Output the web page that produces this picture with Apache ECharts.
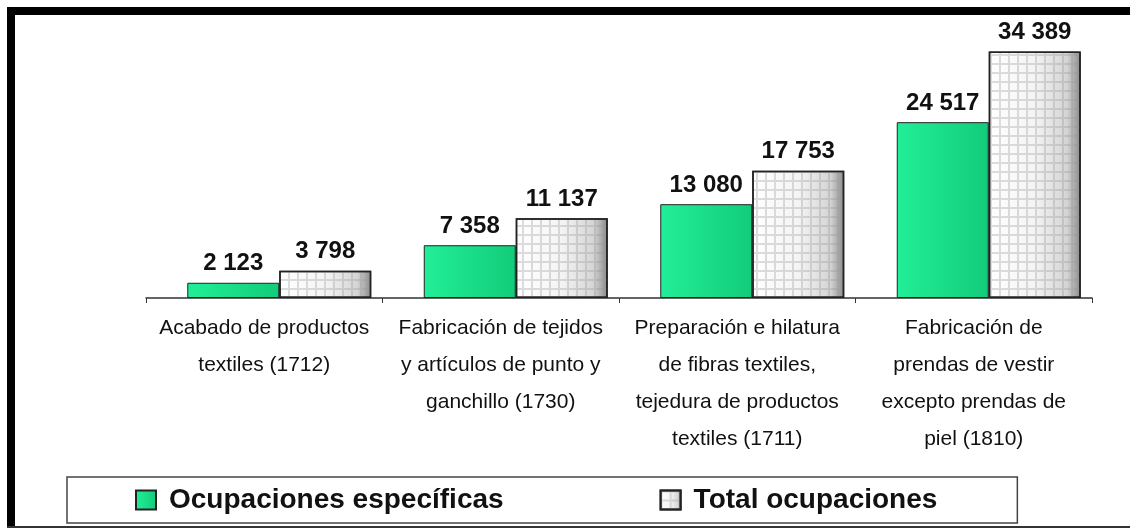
<!DOCTYPE html>
<html>
<head>
<meta charset="utf-8">
<script src="https://cdn.jsdelivr.net/npm/echarts@6/dist/echarts.min.js"></script>
<style>
  body { margin: 0; background: #fff; }
  #chart { position: absolute; left: 0; top: 0; width: 1130px; height: 529px; }
  .frame { position: absolute; background: #000; }
</style>
</head>
<body>
<div id="chart"></div>
<div class="frame" style="left:7px;top:7px;width:1123px;height:8px;"></div>
<div class="frame" style="left:7px;top:7px;width:8px;height:521px;"></div>
<div class="frame" style="left:7px;top:526px;width:1123px;height:2px;background:#333;"></div>
<script>
var categories = [
  'Acabado de productos\ntextiles (1712)',
  'Fabricación de tejidos\ny artículos de punto y\nganchillo (1730)',
  'Preparación e hilatura\nde fibras textiles,\ntejedura de productos\ntextiles (1711)',
  'Fabricación de\nprendas de vestir\nexcepto prendas de\npiel (1810)'
];
var especificas = [2123, 7358, 13080, 24517];
var totales = [3798, 11137, 17753, 34389];
var seriesNames = ['Ocupaciones específicas', 'Total ocupaciones'];

function fmt(v) {
  return String(v).replace(/\B(?=(\d{3})+(?!\d))/g, ' ');
}

var labelStyle = {
  show: true,
  position: 'top',
  distance: 7,
  fontFamily: 'Liberation Sans',
  fontWeight: 'bold',
  fontSize: 24,
  color: '#111',
  formatter: function (p) { return fmt(p.value); }
};

var chart = echarts.init(document.getElementById('chart'));
chart.setOption({
  animation: false,
  backgroundColor: '#fff',
  grid: { left: 146, right: 38, top: 47, bottom: 231 },
  legend: {
    data: seriesNames,
    icon: 'rect',
    left: 67,
    top: 477,
    padding: [8, 80, 8, 68],
    itemGap: 156,
    itemWidth: 20,
    itemHeight: 19,
    borderColor: '#444',
    borderWidth: 1.5,
    borderRadius: 0,
    textStyle: {
      fontFamily: 'Liberation Sans',
      fontWeight: 'bold',
      fontSize: 28,
      lineHeight: 30,
      color: '#111',
      padding: [0, 0, 0, 8]
    }
  },
  xAxis: {
    type: 'category',
    data: categories,
    axisLine: { lineStyle: { color: '#333', width: 1.5 } },
    axisTick: { show: true, length: 5, lineStyle: { color: '#333' } },
    axisLabel: {
      interval: 0,
      margin: 12,
      fontFamily: 'Liberation Sans',
      fontSize: 21,
      lineHeight: 37,
      color: '#111'
    }
  },
  yAxis: {
    type: 'value',
    min: 0,
    max: 35000,
    show: false,
    splitLine: { show: false }
  },
  series: [
    {
      name: 'spacer',
      type: 'bar',
      data: ['-', '-', '-', '-'],
      barWidth: 30,
      barGap: '0%',
      silent: true,
      itemStyle: { color: 'rgba(0,0,0,0)' }
    },
    {
      name: seriesNames[0],
      type: 'bar',
      data: especificas,
      barWidth: 92,
      barGap: '0%',
      itemStyle: {
        color: {
          type: 'linear', x: 0, y: 0, x2: 1, y2: 0,
          colorStops: [
            { offset: 0, color: '#22ee98' },
            { offset: 1, color: '#12cc7a' }
          ]
        },
        borderColor: '#222',
        borderWidth: 1
      },
      label: labelStyle
    },
    {
      name: seriesNames[1],
      type: 'bar',
      data: totales,
      barWidth: 92,
      barGap: '0%',
      itemStyle: {
        color: {
          type: 'linear', x: 0, y: 0, x2: 1, y2: 0,
          colorStops: [
            { offset: 0, color: '#ffffff' },
            { offset: 0.5, color: '#f4f4f4' },
            { offset: 0.85, color: '#d4d4d4' },
            { offset: 1, color: '#8a8a8a' }
          ]
        },
        borderColor: '#222',
        borderWidth: 1.5,
        decal: {
          symbol: 'rect',
          symbolSize: 1,
          symbolKeepAspect: false,
          color: 'rgba(150,150,150,0.32)',
          backgroundColor: 'rgba(0,0,0,0)',
          dashArrayX: [[9, 0], [2, 7]],
          dashArrayY: [2, 0, 7, 0]
        }
      },
      label: labelStyle
    }
  ]
});
</script>
</body>
</html>
